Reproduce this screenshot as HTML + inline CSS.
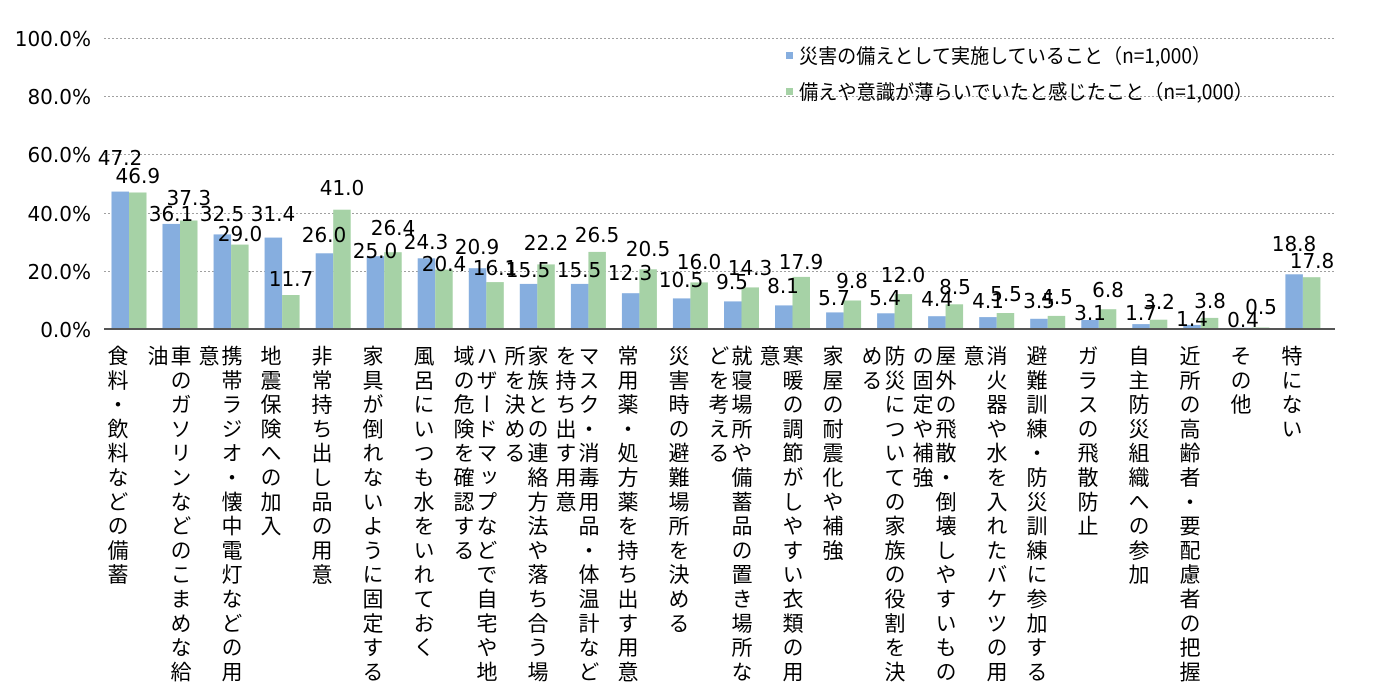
<!DOCTYPE html>
<html><head><meta charset="utf-8"><style>
body{margin:0;width:1394px;height:698px;background:#fff;overflow:hidden;position:relative;font-family:"Liberation Sans","Noto Sans CJK JP",sans-serif;}
svg{position:absolute;left:0;top:0}
.c{position:absolute;top:345px;width:22px;writing-mode:vertical-rl;font-size:21px;letter-spacing:3.3px;line-height:22px;color:#000;white-space:nowrap;font-family:"Noto Sans CJK JP",sans-serif;}
</style></head><body>
<svg width="1394" height="698" font-family="DejaVu Sans, Noto Sans CJK JP, sans-serif">
<g stroke="#a0a0a0" stroke-width="1" stroke-dasharray="2,2">
<line x1="104" x2="1335" y1="38.5" y2="38.5"/><line x1="104" x2="1335" y1="96.5" y2="96.5"/><line x1="104" x2="1335" y1="154.5" y2="154.5"/><line x1="104" x2="1335" y1="213.5" y2="213.5"/><line x1="104" x2="1335" y1="271.5" y2="271.5"/>
</g>
<g font-size="20" text-anchor="end" fill="#000">
<text x="91" y="46">100.0%</text><text x="91" y="104">80.0%</text><text x="91" y="162">60.0%</text><text x="91" y="221">40.0%</text><text x="91" y="279">20.0%</text><text x="91" y="337">0.0%</text>
</g>
<g fill="#86aedf">
<rect x="111.5" y="191.6" width="17.5" height="137.4"/><rect x="162.5" y="223.9" width="17.5" height="105.1"/><rect x="213.6" y="234.4" width="17.5" height="94.6"/><rect x="264.6" y="237.6" width="17.5" height="91.4"/><rect x="315.7" y="253.3" width="17.5" height="75.7"/><rect x="366.7" y="256.2" width="17.5" height="72.8"/><rect x="417.7" y="258.3" width="17.5" height="70.7"/><rect x="468.8" y="268.2" width="17.5" height="60.8"/><rect x="519.8" y="283.9" width="17.5" height="45.1"/><rect x="570.9" y="283.9" width="17.5" height="45.1"/><rect x="621.9" y="293.2" width="17.5" height="35.8"/><rect x="672.9" y="298.4" width="17.5" height="30.6"/><rect x="724" y="301.4" width="17.5" height="27.6"/><rect x="775" y="305.4" width="17.5" height="23.6"/><rect x="826.1" y="312.4" width="17.5" height="16.6"/><rect x="877.1" y="313.3" width="17.5" height="15.7"/><rect x="928.1" y="316.2" width="17.5" height="12.8"/><rect x="979.2" y="317.1" width="17.5" height="11.9"/><rect x="1030.2" y="318.8" width="17.5" height="10.2"/><rect x="1081.3" y="320" width="17.5" height="9"/><rect x="1132.3" y="324.1" width="17.5" height="4.9"/><rect x="1183.3" y="324.9" width="17.5" height="4.1"/><rect x="1234.4" y="327.8" width="17.5" height="1.2"/><rect x="1285.4" y="274.3" width="17.5" height="54.7"/>
</g>
<g fill="#a6d2a6">
<rect x="129" y="192.5" width="17.5" height="136.5"/><rect x="180" y="220.5" width="17.5" height="108.5"/><rect x="231.1" y="244.6" width="17.5" height="84.4"/><rect x="282.1" y="295" width="17.5" height="34"/><rect x="333.2" y="209.7" width="17.5" height="119.3"/><rect x="384.2" y="252.2" width="17.5" height="76.8"/><rect x="435.2" y="269.6" width="17.5" height="59.4"/><rect x="486.3" y="282.1" width="17.5" height="46.9"/><rect x="537.3" y="264.4" width="17.5" height="64.6"/><rect x="588.4" y="251.9" width="17.5" height="77.1"/><rect x="639.4" y="269.3" width="17.5" height="59.7"/><rect x="690.4" y="282.4" width="17.5" height="46.6"/><rect x="741.5" y="287.4" width="17.5" height="41.6"/><rect x="792.5" y="276.9" width="17.5" height="52.1"/><rect x="843.6" y="300.5" width="17.5" height="28.5"/><rect x="894.6" y="294.1" width="17.5" height="34.9"/><rect x="945.6" y="304.3" width="17.5" height="24.7"/><rect x="996.7" y="313" width="17.5" height="16"/><rect x="1047.7" y="315.9" width="17.5" height="13.1"/><rect x="1098.8" y="309.2" width="17.5" height="19.8"/><rect x="1149.8" y="319.7" width="17.5" height="9.3"/><rect x="1200.8" y="317.9" width="17.5" height="11.1"/><rect x="1251.9" y="327.5" width="17.5" height="1.5"/><rect x="1302.9" y="277.2" width="17.5" height="51.8"/>
</g>
<line x1="104" x2="1335" y1="329" y2="329" stroke="#555" stroke-width="2"/>
<g font-size="20" text-anchor="middle" fill="#000" dominant-baseline="central">
<text x="120" y="158">47.2</text><text x="137.8" y="176">46.9</text>
<text x="171" y="214">36.1</text><text x="188.8" y="198">37.3</text>
<text x="222" y="214">32.5</text><text x="240" y="234">29.0</text>
<text x="273" y="214">31.4</text><text x="291" y="279">11.7</text>
<text x="324" y="235">26.0</text><text x="342" y="188">41.0</text>
<text x="375" y="251">25.0</text><text x="393" y="228">26.4</text>
<text x="426" y="242">24.3</text><text x="444" y="264">20.4</text>
<text x="477" y="247">20.9</text><text x="495" y="268">16.1</text>
<text x="528" y="270">15.5</text><text x="546" y="243">22.2</text>
<text x="579" y="270">15.5</text><text x="597" y="235">26.5</text>
<text x="630" y="273">12.3</text><text x="648" y="249">20.5</text>
<text x="681" y="280">10.5</text><text x="699" y="262">16.0</text>
<text x="732" y="282">9.5</text><text x="750" y="268">14.3</text>
<text x="783" y="286">8.1</text><text x="801" y="262">17.9</text>
<text x="834" y="298">5.7</text><text x="852" y="281">9.8</text>
<text x="885" y="298">5.4</text><text x="903" y="275">12.0</text>
<text x="937" y="299">4.4</text><text x="955" y="287">8.5</text>
<text x="988" y="301">4.1</text><text x="1006" y="294">5.5</text>
<text x="1039" y="301">3.5</text><text x="1057" y="297">4.5</text>
<text x="1090" y="313">3.1</text><text x="1108" y="290">6.8</text>
<text x="1141" y="313">1.7</text><text x="1159" y="302">3.2</text>
<text x="1192" y="319">1.4</text><text x="1210" y="301">3.8</text>
<text x="1243" y="320">0.4</text><text x="1261" y="307">0.5</text>
<text x="1294" y="244">18.8</text><text x="1312" y="261">17.8</text>
</g>
<rect x="786" y="52" width="7" height="7" fill="#86aedf"/>
<rect x="786" y="88" width="7" height="7" fill="#a6d2a6"/>
<g font-size="20" fill="#000" font-family="Noto Sans CJK JP, sans-serif"><text x="799" y="63" textLength="412" lengthAdjust="spacingAndGlyphs">災害の備えとして実施していること（n=1,000）</text><text x="799" y="99" textLength="454" lengthAdjust="spacingAndGlyphs">備えや意識が薄らいでいたと感じたこと（n=1,000）</text></g>
</svg>
<div class="c" style="left:107px">食料・飲料などの備蓄</div>
<div class="c" style="left:170px">車のガソリンなどのこまめな給</div><div class="c" style="left:147px">油</div>
<div class="c" style="left:221px">携帯ラジオ・懐中電灯などの用</div><div class="c" style="left:198px">意</div>
<div class="c" style="left:260px">地震保険への加入</div>
<div class="c" style="left:311px">非常持ち出し品の用意</div>
<div class="c" style="left:362px">家具が倒れないように固定する</div>
<div class="c" style="left:413px">風呂にいつも水をいれておく</div>
<div class="c" style="left:476px">ハザードマップなどで自宅や地</div><div class="c" style="left:453px">域の危険を確認する</div>
<div class="c" style="left:527px">家族との連絡方法や落ち合う場</div><div class="c" style="left:504px">所を決める</div>
<div class="c" style="left:578px">マスク・消毒用品・体温計など</div><div class="c" style="left:555px">を持ち出す用意</div>
<div class="c" style="left:617px">常用薬・処方薬を持ち出す用意</div>
<div class="c" style="left:668px">災害時の避難場所を決める</div>
<div class="c" style="left:731px">就寝場所や備蓄品の置き場所な</div><div class="c" style="left:708px">どを考える</div>
<div class="c" style="left:782px">寒暖の調節がしやすい衣類の用</div><div class="c" style="left:759px">意</div>
<div class="c" style="left:822px">家屋の耐震化や補強</div>
<div class="c" style="left:884px">防災についての家族の役割を決</div><div class="c" style="left:861px">める</div>
<div class="c" style="left:935px">屋外の飛散・倒壊しやすいもの</div><div class="c" style="left:912px">の固定や補強</div>
<div class="c" style="left:986px">消火器や水を入れたバケツの用</div><div class="c" style="left:963px">意</div>
<div class="c" style="left:1026px">避難訓練・防災訓練に参加する</div>
<div class="c" style="left:1077px">ガラスの飛散防止</div>
<div class="c" style="left:1128px">自主防災組織への参加</div>
<div class="c" style="left:1179px">近所の高齢者・要配慮者の把握</div>
<div class="c" style="left:1230px">その他</div>
<div class="c" style="left:1281px">特にない</div>
</body></html>
